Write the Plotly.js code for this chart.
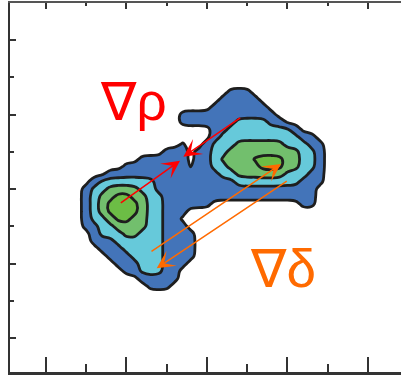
<!DOCTYPE html>
<html><head><meta charset="utf-8">
<script src="https://cdn.plot.ly/plotly-3.0.1.min.js"></script>
<style>html,body{margin:0;padding:0;overflow:hidden;background:#fff}</style>
</head><body><div id="chart" style="width:401px;height:376px"></div>
<script>
// density grid coordinates (axis units)
const gridX = [3,4,5,6,7,8,9,10,11,12,13,14,15,16,17,18,19,20,21,22,23,24,25,26,27,28,29,30,31,32,33,34,35,36,37];
const gridY = [35,34,33,32,31,30,29,28,27,26,25,24,23,22,21,20,19,18,17,16,15,14,13,12,11,10,9,8,7,6,5];
// density level per grid cell, one string per row (top row first)
const densityRows = [
"00000000000000000000000000000000000",
"00000000000000000000000000000000000",
"00000000000000000000111000000000000",
"00000000000000000001111100000000000",
"00000000000000000011111110000000000",
"00000000000000111111111111000000000",
"00000000000000111111122221100000000",
"00000000000000000011222222221000000",
"00000000000000000012222222222110000",
"00000000000000100122233333322211000",
"00000000000011101122333333333221000",
"00000000011111101123333444433221000",
"00000001111111101122333344433221000",
"00000111111111111112233333322211000",
"00012222222111111111122222222111000",
"00122333322111111111111111111110000",
"00123344332211111111111111111110000",
"00123444432211111100000000000110000",
"00123444432211100000000000000000000",
"00122344332211000000000000000000000",
"00112233332211100000000000000000000",
"00012223322211110000000000000000000",
"00011122222211110000000000000000000",
"00001112222211110000000000000000000",
"00000111222211110000000000000000000",
"00000011122211100000000000000000000",
"00000001122211000000000000000000000",
"00000000011111000000000000000000000",
"00000000001110000000000000000000000",
"00000000000000000000000000000000000",
"00000000000000000000000000000000000"
];
const levelColors = ['#ffffff','#4374b9','#66c9da','#72bf6d','#6cbd45'];
// gradient arrows (axis units): tail -> head
const arrowTailX = [9.11, 24.31, 12.92, 30.10];
const arrowTailY = [17.99, 29.70, 11.50, 21.20];
const arrowHeadX = [16.65, 17.06, 29.19, 13.75];
const arrowHeadY = [23.80, 24.34, 23.36, 9.36];
const arrowColors = ['#ff0000','#ff0000','#ff6a00','#ff6a00'];
// labels
const labelText = ['∇ρ','∇δ'];
const labelX = [10.93, 29.44];
const labelY = [31.8, 9.4];
const labelColors = ['#ff0000','#ff6a00'];
const majorTicks = [0,10,20,30,40];

// parse grid (ascending y) and apply a mild kernel-density style smoothing
const zRaw = densityRows.map(r => r.split('').map(Number)).reverse();
const yAsc = gridY.slice().reverse();
function smooth(z) {
  const ny = z.length, nx = z[0].length, w = [1, 4, 1], ws = 6;
  const get = (a, j, i) => (j < 0 || j >= ny || i < 0 || i >= nx) ? 0 : a[j][i];
  const h = z.map((row, j) => row.map((v, i) => (w[0]*get(z, j, i-1) + w[1]*v + w[2]*get(z, j, i+1)) / ws));
  return h.map((row, j) => row.map((v, i) => (w[0]*get(h, j-1, i) + w[1]*v + w[2]*get(h, j+1, i)) / ws));
}
const zAsc = smooth(zRaw);

const cs = [
  [0, levelColors[0]], [0.125, levelColors[0]],
  [0.125, levelColors[1]], [0.375, levelColors[1]],
  [0.375, levelColors[2]], [0.625, levelColors[2]],
  [0.625, levelColors[3]], [0.875, levelColors[3]],
  [0.875, levelColors[4]], [1, levelColors[4]]
];

const traces = [
  {
    type: 'contour', x: gridX, y: yAsc, z: zAsc,
    zmin: 0, zmax: 4, zauto: false,
    autocontour: false,
    contours: {start: 0.5, end: 3.5, size: 1, coloring: 'fill', showlines: true},
    line: {color: '#1e1e1e', width: 2.8, smoothing: 1.3},
    colorscale: cs, showscale: false, hoverinfo: 'skip'
  },
  {type: 'scatter', x: [], y: [], xaxis: 'x2', yaxis: 'y', showlegend: false}
];

const annotations = [];
for (let i = 0; i < arrowTailX.length; i++) {
  annotations.push({
    x: arrowHeadX[i], y: arrowHeadY[i], ax: arrowTailX[i], ay: arrowTailY[i],
    xref: 'x', yref: 'y', axref: 'x', ayref: 'y',
    text: '', showarrow: true, arrowhead: 3, arrowsize: 2.0, arrowwidth: 1.5,
    arrowcolor: arrowColors[i], standoff: 0, startstandoff: 0
  });
}
for (let i = 0; i < labelText.length; i++) {
  annotations.push({
    x: labelX[i], y: labelY[i], xref: 'x', yref: 'y', text: labelText[i],
    showarrow: false, xanchor: 'center', yanchor: 'middle',
    font: {family: 'Liberation Sans, DejaVu Sans, sans-serif', size: 53, color: labelColors[i]}
  });
}

const axisBase = {
  showgrid: false, zeroline: false, showticklabels: false,
  ticks: 'inside', tickwidth: 2, tickcolor: '#333', tickmode: 'array', tickvals: majorTicks,
  showline: true, linecolor: '#333', linewidth: 2.5
};

const layout = {
  width: 401, height: 376,
  margin: {l: 10, r: 0, t: 3, b: 4, pad: 0},
  paper_bgcolor: '#ffffff', plot_bgcolor: '#ffffff',
  showlegend: false,
  xaxis: Object.assign({}, axisBase, {
    range: [-4.47, 44.1], ticklen: 15,
    minor: {dtick: 5, tick0: 0, ticks: 'inside', ticklen: 8, tickwidth: 2, tickcolor: '#333', showgrid: false}
  }),
  xaxis2: Object.assign({}, axisBase, {
    overlaying: 'x', side: 'top', anchor: 'y', range: [-4.47, 44.1], ticklen: 6,
    linecolor: '#555', linewidth: 2,
    minor: {dtick: 5, tick0: 0, ticks: 'inside', ticklen: 3, tickwidth: 2, tickcolor: '#333', showgrid: false}
  }),
  yaxis: Object.assign({}, axisBase, {
    range: [-4.56, 44.97], ticklen: 6,
    minor: {dtick: 5, tick0: 0, ticks: 'inside', ticklen: 4, tickwidth: 2, tickcolor: '#333', showgrid: false}
  }),
  annotations: annotations
};

Plotly.newPlot('chart', traces, layout, {staticPlot: true, displayModeBar: false});
</script></body></html>
